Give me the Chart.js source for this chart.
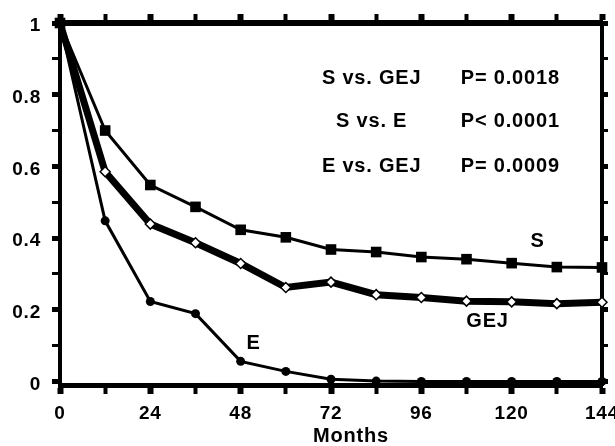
<!DOCTYPE html>
<html>
<head>
<meta charset="utf-8">
<script src="https://cdn.jsdelivr.net/npm/chart.js@4.4.1/dist/chart.umd.min.js"></script>
<style>
  html, body { margin: 0; padding: 0; background: #fff; }
  #wrap { width: 615px; height: 446px; }
</style>
</head>
<body>
<div id="wrap"><canvas id="chart" width="615" height="446"></canvas></div>
<script>
// survival data
const months = [0, 12, 24, 36, 48, 60, 72, 84, 96, 108, 120, 132, 144];
const survS = [1, 0.70, 0.548, 0.487, 0.423, 0.402, 0.368, 0.361, 0.347, 0.341, 0.330, 0.319, 0.318];
const survGEJ = [1, 0.585, 0.439, 0.387, 0.329, 0.262, 0.277, 0.242, 0.234, 0.224, 0.222, 0.217, 0.221];
const survE = [1, 0.448, 0.223, 0.189, 0.056, 0.028, 0.006, 0.001, 0, 0, 0, 0, 0];

const xTickLabels = [0, 24, 48, 72, 96, 120, 144];
const yTickLabels = [0, 0.2, 0.4, 0.6, 0.8, 1];

const compareLabels = ['S vs. GEJ', 'S vs. E', 'E vs. GEJ'];
const pLabels = ['P= 0.0018', 'P< 0.0001', 'P= 0.0009'];
const seriesNames = ['S', 'GEJ', 'E'];

const FONT = '"Liberation Sans", Arial, sans-serif';

function toPoints(ys) {
  return months.map((m, i) => ({ x: m, y: ys[i] }));
}

function isMajorY(v) {
  return yTickLabels.some(t => Math.abs(t - v) < 1e-6);
}

// draw the extra texts (p values, series names, axis title)
const textPlugin = {
  id: 'texts',
  beforeDraw(chart) {
    chart.ctx.letterSpacing = '0.8px';
  },
  afterDraw(chart) {
    const ctx = chart.ctx;
    const xs = chart.scales.x;
    const ys = chart.scales.y;
    ctx.save();
    ctx.fillStyle = '#000';
    ctx.textBaseline = 'middle';
    ctx.font = 'bold 20px ' + FONT;

    const rowY = [0.846, 0.725, 0.601];
    for (let i = 0; i < compareLabels.length; i++) {
      ctx.textAlign = 'center';
      ctx.fillText(compareLabels[i], xs.getPixelForValue(82.8), ys.getPixelForValue(rowY[i]));
      ctx.textAlign = 'left';
      ctx.fillText(pLabels[i], xs.getPixelForValue(106.5), ys.getPixelForValue(rowY[i]));
    }

    // series names next to the curves
    const namePos = [[126.9, 0.390], [113.6, 0.166], [51.4, 0.105]];
    ctx.textAlign = 'center';
    for (let i = 0; i < seriesNames.length; i++) {
      ctx.fillText(seriesNames[i], xs.getPixelForValue(namePos[i][0]), ys.getPixelForValue(namePos[i][1]));
    }

    ctx.fillText('Months', 351, 436);
    ctx.restore();
    ctx.letterSpacing = '0px';
  }
};

const tickFont = { family: FONT, size: 19, weight: 'bold' };

const ctx = document.getElementById('chart').getContext('2d');
new Chart(ctx, {
  type: 'line',
  data: {
    datasets: [
      {
        label: 'S',
        data: toPoints(survS),
        borderColor: '#000',
        borderWidth: 3,
        pointStyle: 'rect',
        pointRadius: 7.5,
        pointBackgroundColor: '#000',
        pointBorderColor: '#000',
        pointBorderWidth: 0,
        clip: false
      },
      {
        label: 'GEJ',
        data: toPoints(survGEJ),
        borderColor: '#000',
        borderWidth: 7,
        pointStyle: 'rectRot',
        pointRadius: 5,
        pointBackgroundColor: '#fff',
        pointBorderColor: '#000',
        pointBorderWidth: 1.5,
        clip: false
      },
      {
        label: 'E',
        data: toPoints(survE),
        borderColor: '#000',
        borderWidth: 3,
        pointStyle: 'circle',
        pointRadius: 4.5,
        pointBackgroundColor: '#000',
        pointBorderColor: '#000',
        pointBorderWidth: 0,
        clip: false
      }
    ]
  },
  options: {
    responsive: false,
    animation: false,
    layout: { padding: 0 },
    elements: { line: { tension: 0 } },
    plugins: {
      legend: { display: false },
      tooltip: { enabled: false }
    },
    scales: {
      x: {
        type: 'linear',
        position: 'bottom',
        min: 0,
        max: 144,
        afterFit: s => { s.height = 61; s.paddingLeft = 0; s.paddingRight = 0; },
        border: { color: '#000', width: 5 },
        grid: {
          drawOnChartArea: false,
          tickLength: 9,
          tickColor: '#000',
          tickWidth: c => (c.tick && c.tick.value % 24 === 0) ? 6 : 4
        },
        ticks: {
          stepSize: 12,
          padding: 8,
          color: '#000',
          font: tickFont,
          maxRotation: 0,
          autoSkip: false,
          callback: v => xTickLabels.includes(v) ? String(v) : ''
        }
      },
      x2: {
        type: 'linear',
        position: 'top',
        min: 0,
        max: 144,
        afterFit: s => { s.height = 23; s.paddingLeft = 0; s.paddingRight = 0; },
        border: { color: '#000', width: 6 },
        grid: {
          drawOnChartArea: false,
          tickLength: 9,
          tickColor: '#000',
          tickWidth: c => (c.tick && c.tick.value % 24 === 0) ? 6 : 4
        },
        ticks: { display: false, stepSize: 12, autoSkip: false }
      },
      y: {
        type: 'linear',
        position: 'left',
        min: -0.01,
        max: 1,
        afterFit: s => { s.width = 60; },
        border: { color: '#000', width: 4 },
        grid: {
          drawOnChartArea: false,
          tickLength: 8,
          tickColor: '#000',
          tickWidth: c => (c.tick && isMajorY(c.tick.value)) ? 5 : 3
        },
        ticks: {
          stepSize: 0.1,
          includeBounds: false,
          padding: 11,
          labelOffset: 3,
          color: '#000',
          font: tickFont,
          autoSkip: false,
          callback: v => isMajorY(v) ? String(Math.round(v * 10) / 10) : ''
        }
      },
      y2: {
        type: 'linear',
        position: 'right',
        min: -0.01,
        max: 1,
        afterFit: s => { s.width = 13; },
        border: { color: '#000', width: 4 },
        grid: {
          drawOnChartArea: false,
          tickLength: 6,
          tickColor: '#000',
          tickWidth: c => (c.tick && isMajorY(c.tick.value)) ? 5 : 3
        },
        ticks: { display: false, stepSize: 0.1, includeBounds: false, autoSkip: false }
      }
    }
  },
  plugins: [textPlugin]
});
</script>
</body>
</html>
